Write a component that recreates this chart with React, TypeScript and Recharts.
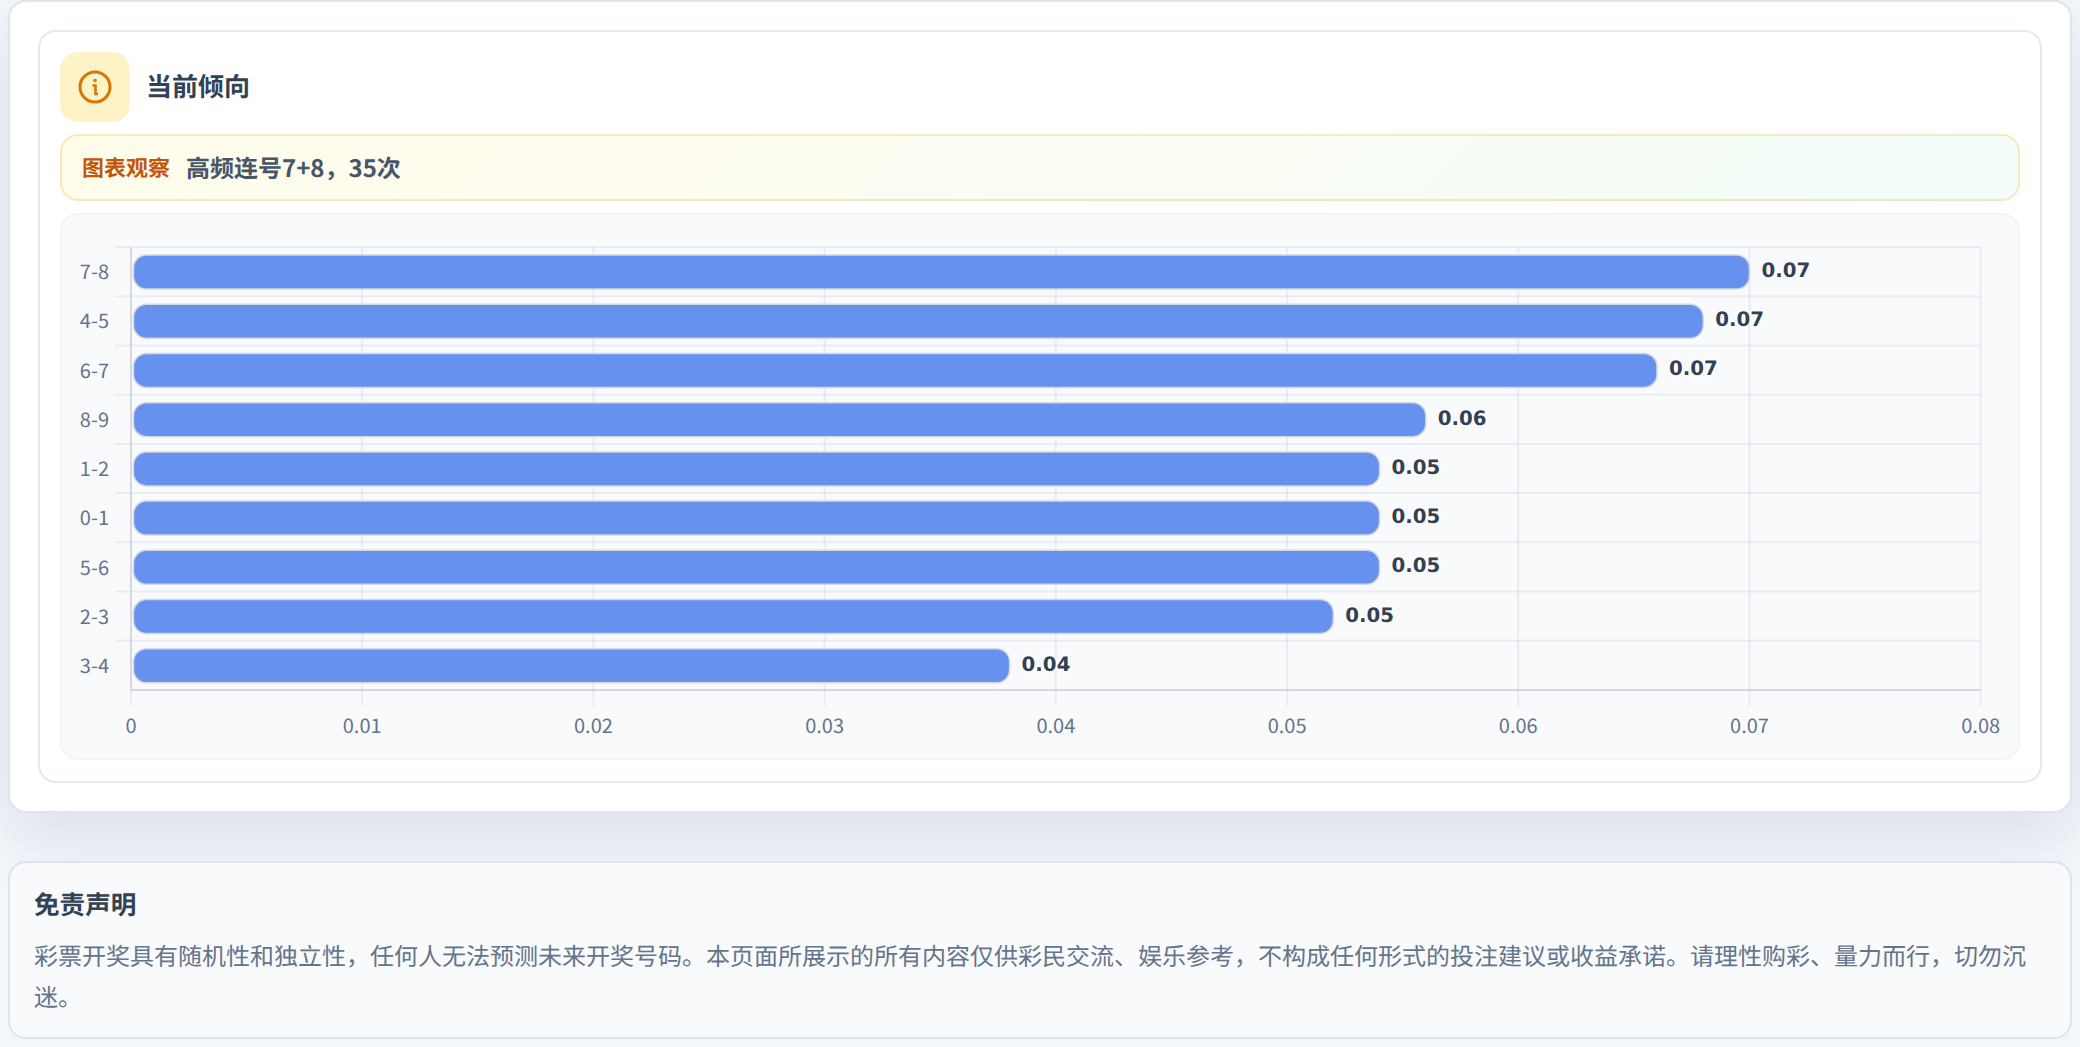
import { BarChart, Bar, XAxis, YAxis, CartesianGrid, LabelList, Rectangle } from 'recharts';

const pairs = ['7-8', '4-5', '6-7', '8-9', '1-2', '0-1', '5-6', '2-3', '3-4'];
const rates = [0.07, 0.068, 0.066, 0.056, 0.054, 0.054, 0.054, 0.052, 0.038];
const xTicks = [0, 0.01, 0.02, 0.03, 0.04, 0.05, 0.06, 0.07, 0.08];

const chartData = pairs.map((pair, i) => ({ pair, rate: rates[i] }));

const cjk = '"Noto Sans CJK SC", "Noto Sans", sans-serif';
const gridColor = 'rgba(90, 90, 150, 0.085)';
const axisColor = '#d6d7e1';
const tickStyle = { fill: '#64748b', fontSize: 20, fontFamily: cjk };

const abs = (left: number, top: number, width: number, height: number) => ({
  position: 'absolute' as const,
  left,
  top,
  width,
  height,
  boxSizing: 'border-box' as const,
});

function bandEdges({ offset }: any) {
  const step = offset.height / pairs.length;
  return pairs.map((_, i) => offset.top + i * step);
}

// bars sit just off the axis line
function InsetBar(props: any) {
  const { x, y, width, height, fill, stroke, strokeWidth } = props;
  return (
    <Rectangle
      x={x + 2.5}
      y={y}
      width={width - 2.5}
      height={height}
      radius={13}
      fill={fill}
      stroke={stroke}
      strokeWidth={strokeWidth}
    />
  );
}

export default function App() {
  return (
    <div
      style={{
        ...abs(0, 0, 2080, 1047),
        overflow: 'hidden',
        background: '#f3f6fb',
        fontFamily: cjk,
        textRendering: 'geometricPrecision',
      }}
    >
      {/* outer card */}
      <div
        style={{
          ...abs(8, 0, 2063.7, 812.7),
          background: '#fff',
          border: '2px solid #dde5f1',
          borderRadius: 18,
          boxShadow: '0 24px 70px rgba(15, 23, 42, 0.1)',
        }}
      />
      <div
        style={{
          ...abs(38, 30, 2004, 752.7),
          background: '#fff',
          border: '2px solid #e3e8f1',
          borderRadius: 18,
        }}
      />

      {/* header */}
      <div style={{ ...abs(60, 52, 70, 70), background: '#fef3c7', borderRadius: 18 }} />
      <svg style={abs(78, 70, 34, 34)} viewBox="0 0 34 34">
        <circle cx="17" cy="17" r="15" fill="none" stroke="#d97706" strokeWidth="3" />
        <circle cx="17" cy="10.5" r="1.8" fill="#d97706" />
        <path d="M14.5 15.5 H17.5 V24 H20" fill="none" stroke="#d97706" strokeWidth="2.6" />
      </svg>
      <div
        style={{
          position: 'absolute',
          left: 146,
          top: 68,
          fontSize: 26,
          lineHeight: '36px',
          fontWeight: 700,
          color: '#334155',
        }}
      >
        当前倾向
      </div>

      {/* observation banner */}
      <div
        style={{
          ...abs(60, 134, 1960, 67),
          border: '2px solid #f8e8c0',
          borderRadius: 18,
          background: 'linear-gradient(135deg, #fffcea 0%, #fdfcf0 35%, #f2fdf9 100%)',
        }}
      />
      <div
        style={{
          position: 'absolute',
          left: 82,
          top: 151,
          fontSize: 22,
          lineHeight: '32px',
          fontWeight: 700,
          color: '#c2570c',
        }}
      >
        图表观察
      </div>
      <div
        style={{
          position: 'absolute',
          left: 186,
          top: 150,
          fontSize: 24,
          lineHeight: '34px',
          fontWeight: 700,
          color: '#475569',
        }}
      >
        高频连号7+8，35次
      </div>

      {/* chart panel */}
      <div
        style={{
          ...abs(60, 213, 1960, 547),
          background: '#f9fafc',
          border: '2px solid #f2f4f8',
          borderRadius: 18,
        }}
      />
      <div style={abs(60, 213, 1960, 547)}>
        <BarChart
          width={1960}
          height={547}
          data={chartData}
          layout="vertical"
          margin={{ top: 34, right: 39.3, bottom: 0, left: 0 }}
          barSize={34}
        >
          <Bar
            dataKey="rate"
            fill="#6691ef"
            stroke="#d4d7df"
            strokeWidth={1.5}
            shape={InsetBar}
            isAnimationActive={false}
          >
            <LabelList
              dataKey="rate"
              position="right"
              offset={12}
              dy={-2}
              formatter={(v: number) => v.toFixed(2)}
              style={{
                fontFamily: '"DejaVu Sans", sans-serif',
                fontWeight: 700,
                fontSize: 19.8,
                fill: '#334155',
                stroke: '#fff',
                strokeWidth: 3,
                paintOrder: 'stroke',
              }}
            />
          </Bar>
          <CartesianGrid
            vertical={false}
            x={55}
            width={1865.7}
            stroke={gridColor}
            strokeWidth={2}
            horizontalCoordinatesGenerator={bandEdges}
          />
          <CartesianGrid
            horizontal={false}
            stroke={gridColor}
            strokeWidth={2}
            verticalValues={xTicks}
          />
          <XAxis
            type="number"
            domain={[0, 0.08]}
            ticks={xTicks}
            interval={0}
            height={70}
            tickSize={16}
            tickMargin={13}
            tickLine={{ stroke: gridColor, strokeWidth: 2 }}
            axisLine={{ stroke: axisColor, strokeWidth: 2 }}
            tickFormatter={(v: number) => String(v)}
            tick={tickStyle}
          />
          <YAxis
            type="category"
            dataKey="pair"
            width={71}
            tickSize={0}
            tickMargin={22}
            tickLine={false}
            axisLine={{ stroke: axisColor, strokeWidth: 2 }}
            tick={{ ...tickStyle, dy: 0.5 }}
          />
        </BarChart>
      </div>

      {/* disclaimer */}
      <div
        style={{
          ...abs(8, 861, 2063.7, 177.7),
          background: '#f8fafc',
          border: '2px solid #dbe4f0',
          borderRadius: 18,
        }}
      />
      <div
        style={{
          position: 'absolute',
          left: 34,
          top: 885,
          fontSize: 25.6,
          lineHeight: '38px',
          fontWeight: 700,
          color: '#334155',
        }}
      >
        免责声明
      </div>
      <div
        style={{
          position: 'absolute',
          left: 34,
          top: 935,
          width: 2012,
          fontSize: 24,
          lineHeight: '40.5px',
          color: '#64748b',
        }}
      >
        彩票开奖具有随机性和独立性，任何人无法预测未来开奖号码。本页面所展示的所有内容仅供彩民交流、娱乐参考，不构成任何形式的投注建议或收益承诺。请理性购彩、量力而行，切勿沉迷。
      </div>
    </div>
  );
}
